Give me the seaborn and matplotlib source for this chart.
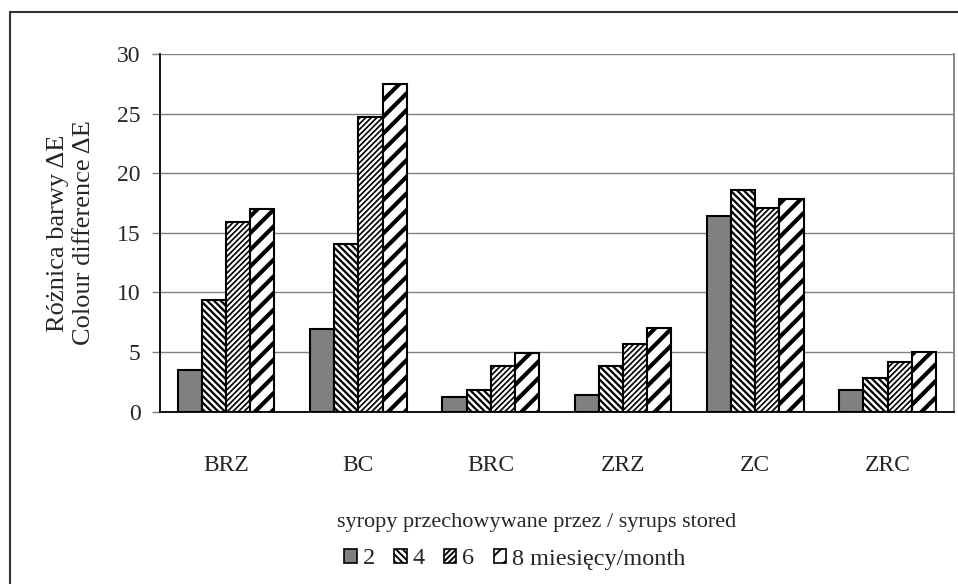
import numpy as np
import pandas as pd
import matplotlib
matplotlib.use("Agg")
import matplotlib.pyplot as plt
from matplotlib.patches import Patch
from matplotlib.lines import Line2D
import seaborn as sns

# dane
syrups = ["BRZ", "BC", "BRC", "ZRZ", "ZC", "ZRC"]
months = ["2", "4", "6", "8 miesięcy/month"]
de_2m = [3.5, 6.9, 1.2, 1.4, 16.4, 1.8]
de_4m = [9.4, 14.1, 1.8, 3.8, 18.6, 2.8]
de_6m = [15.9, 24.7, 3.8, 5.7, 17.1, 4.2]
de_8m = [17.0, 27.5, 4.9, 7.0, 17.8, 5.0]

df = pd.DataFrame({
    "syrop": syrups * 4,
    "okres": [m for m in months for _ in syrups],
    "dE": de_2m + de_4m + de_6m + de_8m,
})

sns.set_style("white")
plt.rcParams["font.family"] = ["Liberation Serif", "DejaVu Serif"]
plt.rcParams["hatch.linewidth"] = 1.4

faces = ["#808080", "white", "white", "white"]
hatches = [None, "\\\\\\\\\\", "//////", "//"]
hatch_lw = [1.4, 1.6, 1.2, 3.0]

fig = plt.figure(figsize=(9.58, 5.84), dpi=100)
ax = fig.add_axes([160 / 958, 1 - 411.7 / 584, 793.7 / 958, (411.7 - 54) / 584])

sns.barplot(data=df, x="syrop", y="dE", hue="okres", hue_order=months,
            palette=faces, width=0.73, edgecolor="black", linewidth=1.5,
            saturation=1, legend=False, ax=ax)

for cont, fc, h, hl in zip(ax.containers, faces, hatches, hatch_lw):
    for bar in cont:
        bar.set_facecolor(fc)
        bar.set_edgecolor("black")
        if h:
            bar.set_hatch(h)
            if hasattr(bar, "set_hatch_linewidth"):
                bar.set_hatch_linewidth(hl)

ax.set_ylim(0, 30)
ax.set_xlim(-0.5, 5.5)
ax.set_yticks(range(0, 31, 5))
ax.yaxis.grid(True, color="#808080", lw=1)
ax.set_axisbelow(True)

ax.set_xticks(range(len(syrups)))
ax.set_xticklabels(syrups, fontsize=17)
ax.set_xticks(np.arange(-0.5, 6, 1), minor=True)
ax.tick_params(axis="x", which="major", length=0, pad=31)
ax.tick_params(axis="x", which="minor", length=6, width=1, color="#808080", direction="out")
ax.tick_params(axis="y", labelsize=17, length=6, width=1, color="#808080",
               direction="out", pad=8, left=True)

ax.set_xlabel("")
ax.set_ylabel("Różnica barwy ΔE\nColour difference ΔE", fontsize=19, labelpad=16,
              linespacing=1.2)

for s in ["left", "bottom"]:
    ax.spines[s].set_color("black")
    ax.spines[s].set_linewidth(1.3)
ax.spines["top"].set_visible(False)
ax.spines["right"].set_color("#808080")
ax.spines["right"].set_linewidth(1.3)

fig.text(537 / 958, 1 - 522 / 584, "syropy przechowywane przez / syrups stored",
         ha="center", va="center", fontsize=16)

handles = []
for fc, h in zip(faces, hatches):
    handles.append(Patch(facecolor=fc, edgecolor="black", hatch=h, linewidth=1.2))
fig.legend(handles, months, loc="center", bbox_to_anchor=(515 / 958, 1 - 559 / 584),
           ncol=4, frameon=False, fontsize=17.5, handlelength=0.5, handleheight=0.5,
           handletextpad=0.25, columnspacing=0.8, borderpad=0)

# ramka wokół całości
fig.add_artist(Line2D([10 / 958, 10 / 958], [0, 1 - 12 / 584], transform=fig.transFigure,
                      color="#333333", lw=1.5))
fig.add_artist(Line2D([10 / 958, 1], [1 - 12 / 584, 1 - 12 / 584], transform=fig.transFigure,
                      color="#333333", lw=1.5))

fig.savefig("out.png", dpi=100)
